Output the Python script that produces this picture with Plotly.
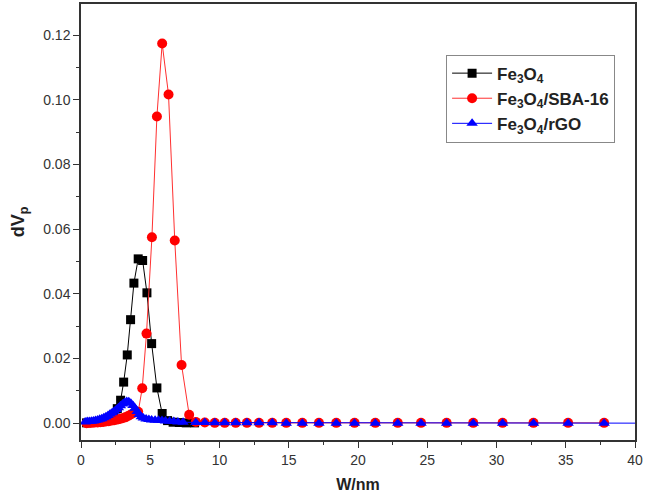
import plotly.graph_objects as go

# Fe3O4 (black squares)
fe_x = [0.4, 0.8, 1.2, 1.6, 2.0, 2.35, 2.62, 2.86, 3.08, 3.34, 3.58, 3.82, 4.13, 4.45,
        4.76, 5.10, 5.48, 5.86, 6.25, 6.65, 7.1, 7.6, 8.2]
fe_y = [0.0001, 0.0002, 0.0004, 0.0007, 0.0013, 0.0025, 0.0045, 0.0071, 0.0127, 0.0211,
        0.0320, 0.0433, 0.0508, 0.0503, 0.0403, 0.0246, 0.0109, 0.0030, 0.0008, 0.0003,
        0.0002, 0.0001, 0.0001]

# Fe3O4/SBA-16 (red circles)
sba_x = [0.40, 0.60, 0.80, 1.00, 1.20, 1.40, 1.60, 1.80, 2.00, 2.20, 2.40, 2.60, 2.80,
         3.00, 3.20, 3.40, 3.60, 3.85, 4.13, 4.42, 4.73, 5.12, 5.48, 5.86, 6.32, 6.77,
         7.26, 7.81, 8.29, 8.94, 9.66, 10.38, 11.17, 11.98, 12.85, 13.81, 14.82, 15.98,
         17.18, 18.43, 19.75, 21.25, 22.87, 24.55, 26.40, 28.32, 30.44, 32.67, 35.17, 37.77]
sba_y = [0.0000, 0.0001, 0.0001, 0.0002, 0.0002, 0.0003, 0.0004, 0.0005, 0.0006, 0.0008,
         0.0009, 0.0011, 0.0013, 0.0015, 0.0018, 0.0022, 0.0027, 0.0032, 0.0035, 0.0108,
         0.0277, 0.0575, 0.0948, 0.1174, 0.1016, 0.0565, 0.0180, 0.0026, 0.0004, 0.0002,
         0.0001, 0.0001, 0.0001, 0.0001, 0.0001, 0.0001, 0.0001, 0.0001, 0.0001, 0.0001,
         0.0001, 0.0001, 0.0001, 0.0001, 0.0001, 0.0001, 0.0001, 0.0001, 0.0001, 0.0001]

# Fe3O4/rGO (blue triangles)
rgo_x = [0.30, 0.45, 0.60, 0.75, 0.90, 1.05, 1.20, 1.35, 1.50, 1.65, 1.80, 1.95, 2.10,
         2.25, 2.40, 2.55, 2.70, 2.85, 3.00, 3.15, 3.30, 3.45, 3.60, 3.75, 3.90, 4.05,
         4.20, 4.35, 4.50, 4.70, 4.90, 5.10, 5.35, 5.60, 5.85, 6.10, 6.40, 6.70, 7.00,
         7.37, 8.29, 8.94, 9.66, 10.38, 11.17, 11.98, 12.85, 13.81, 14.82, 15.98, 17.18,
         18.43, 19.75, 21.25, 22.87, 24.55, 26.40, 28.32, 30.44, 32.67, 35.17, 37.77, 41.5]
rgo_y = [0.0004, 0.0005, 0.0005, 0.0006, 0.0007, 0.0008, 0.0010, 0.0012, 0.0014, 0.0017,
         0.0020, 0.0024, 0.0028, 0.0032, 0.0037, 0.0042, 0.0048, 0.0054, 0.0059, 0.0064,
         0.0067, 0.0066, 0.0062, 0.0055, 0.0046, 0.0036, 0.0027, 0.0020, 0.0016, 0.0013,
         0.0011, 0.0010, 0.0009, 0.0009, 0.0008, 0.0007, 0.0006, 0.0005, 0.0004, 0.0003,
         0.0002, 0.0002, 0.0001, 0.0001, 0.0001, 0.0001, 0.0001, 0.0001, 0.0000, 0.0000,
         0.0000, 0.0000, 0.0000, 0.0000, 0.0000, 0.0000, 0.0000, 0.0000, 0.0000, 0.0000,
         0.0000, 0.0000, 0.0000]

names = ["<b>Fe<sub>3</sub>O<sub>4</sub></b>", "<b>Fe<sub>3</sub>O<sub>4</sub>/SBA-16</b>",
         "<b>Fe<sub>3</sub>O<sub>4</sub>/rGO</b>"]

fig = go.Figure()
fig.add_trace(go.Scatter(x=fe_x, y=fe_y, name=names[0], mode="lines+markers",
                         line=dict(color="black", width=1),
                         marker=dict(symbol="square", size=9, color="black")))
fig.add_trace(go.Scatter(x=sba_x, y=sba_y, name=names[1], mode="lines+markers",
                         line=dict(color="#ff3030", width=1),
                         marker=dict(symbol="circle", size=10, color="#ff0000")))
fig.add_trace(go.Scatter(x=rgo_x, y=rgo_y, name=names[2], mode="lines+markers",
                         line=dict(color="#0000ff", width=1),
                         marker=dict(symbol="triangle-up", size=10, color="#0000ff")))

axis_common = dict(showline=True, linecolor="#333333", linewidth=1.5, mirror=True,
                   ticks="outside", ticklen=6, tickwidth=1.2, tickcolor="#333333",
                   showgrid=False, zeroline=False,
                   tickfont=dict(family="Arial, Liberation Sans", size=14, color="#333333"))

fig.update_xaxes(range=[0, 40], dtick=5, tick0=0,
                 minor=dict(ticks="outside", ticklen=3, dtick=2.5, tickcolor="#333333"),
                 title=dict(text="<b>W/nm</b>", standoff=12,
                            font=dict(family="Arial, Liberation Sans", size=16, color="#222222")),
                 **axis_common)
fig.update_yaxes(range=[-0.0052, 0.1296], dtick=0.02, tick0=0, tickformat=".2f",
                 minor=dict(ticks="outside", ticklen=3, dtick=0.01, tickcolor="#333333"),
                 title=dict(text="<b>dV<sub>p</sub></b>", standoff=14,
                            font=dict(family="Arial, Liberation Sans", size=18, color="#222222")),
                 **axis_common)

fig.update_layout(
    width=645, height=496,
    margin=dict(l=81, r=9, t=2, b=56),
    paper_bgcolor="white", plot_bgcolor="white",
    showlegend=True,
    legend=dict(x=0.659, y=0.884, xanchor="left", yanchor="top",
                bordercolor="#888888", borderwidth=1, bgcolor="white",
                font=dict(family="Arial, Liberation Sans", size=17, color="#222222"),
                itemwidth=40, tracegroupgap=0),
)

fig.write_html("out.html")
